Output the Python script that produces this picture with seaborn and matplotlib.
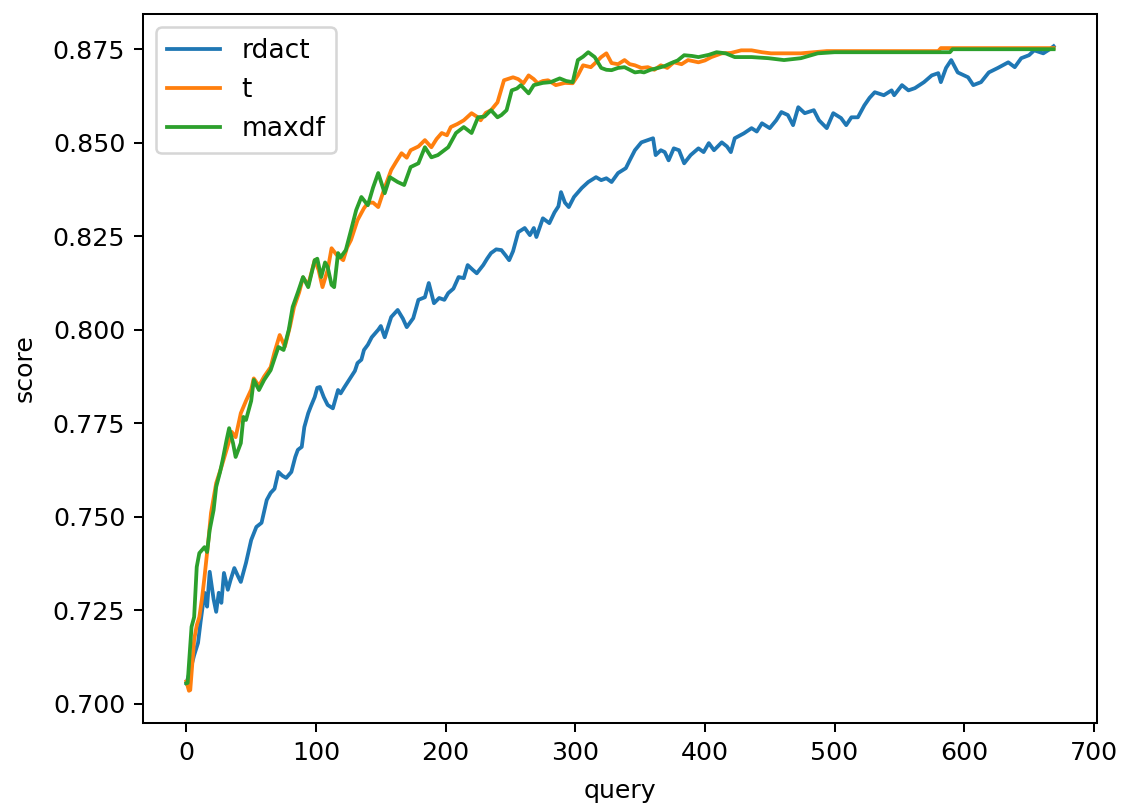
import matplotlib
matplotlib.use("Agg")
import matplotlib.pyplot as plt
import seaborn as sns
import pandas as pd

# ---- data ----
rdact_query = [0, 3, 6, 9, 11, 14, 16, 18, 21, 23, 25, 27, 29, 32, 34, 37, 40, 42, 46, 50,
               54, 58, 62, 65, 68, 71, 74, 77, 81, 84, 86, 89, 91, 94, 96, 99, 101, 103, 106, 109,
               113, 117, 119, 122, 127, 130, 132, 135, 137, 140, 143, 148, 150, 153, 158, 163, 167, 170, 175, 179,
               184, 187, 191, 195, 199, 202, 206, 210, 214, 217, 221, 224, 229, 232, 235, 239, 243, 246, 249, 252,
               256, 261, 265, 268, 270, 275, 280, 284, 287, 289, 292, 295, 299, 305, 310, 316, 320, 324, 328, 333,
               339, 342, 346, 351, 356, 360, 362, 366, 369, 372, 376, 380, 384, 389, 395, 399, 403, 407, 413, 417,
               420, 423, 430, 436, 440, 444, 450, 455, 459, 464, 468, 472, 477, 484, 488, 494, 499, 505, 509, 513,
               518, 523, 527, 531, 538, 544, 546, 552, 557, 562, 569, 575, 580, 582, 586, 590, 595, 603, 607, 613,
               619, 626, 634, 639, 644, 650, 654, 661, 666, 669]
rdact_score = [0.7055, 0.7090, 0.7130, 0.7163, 0.7220, 0.7297, 0.7260, 0.7353, 0.7280, 0.7246, 0.7297, 0.7270, 0.7350, 0.7305, 0.7330, 0.7363, 0.7340, 0.7326, 0.7377, 0.7438,
               0.7473, 0.7484, 0.7545, 0.7564, 0.7575, 0.7620, 0.7610, 0.7604, 0.7620, 0.7660, 0.7679, 0.7687, 0.7740, 0.7777, 0.7795, 0.7820, 0.7845, 0.7847, 0.7820, 0.7799,
               0.7790, 0.7839, 0.7830, 0.7847, 0.7874, 0.7890, 0.7911, 0.7920, 0.7946, 0.7960, 0.7980, 0.8000, 0.8010, 0.7980, 0.8034, 0.8053, 0.8030, 0.8007, 0.8031, 0.8080,
               0.8087, 0.8125, 0.8071, 0.8085, 0.8080, 0.8098, 0.8110, 0.8141, 0.8138, 0.8173, 0.8160, 0.8151, 0.8173, 0.8190, 0.8205, 0.8215, 0.8213, 0.8200, 0.8186, 0.8210,
               0.8261, 0.8272, 0.8253, 0.8272, 0.8248, 0.8298, 0.8285, 0.8314, 0.8330, 0.8368, 0.8340, 0.8328, 0.8355, 0.8379, 0.8395, 0.8408, 0.8400, 0.8405, 0.8395, 0.8419,
               0.8432, 0.8453, 0.8480, 0.8501, 0.8507, 0.8512, 0.8467, 0.8480, 0.8475, 0.8453, 0.8485, 0.8480, 0.8445, 0.8467, 0.8485, 0.8475, 0.8499, 0.8480, 0.8501, 0.8490,
               0.8475, 0.8512, 0.8525, 0.8539, 0.8530, 0.8552, 0.8539, 0.8560, 0.8582, 0.8574, 0.8547, 0.8595, 0.8579, 0.8587, 0.8560, 0.8539, 0.8579, 0.8566, 0.8547, 0.8568,
               0.8568, 0.8600, 0.8620, 0.8635, 0.8627, 0.8640, 0.8627, 0.8654, 0.8640, 0.8646, 0.8662, 0.8680, 0.8686, 0.8662, 0.8700, 0.8721, 0.8688, 0.8675, 0.8654, 0.8662,
               0.8688, 0.8700, 0.8715, 0.8702, 0.8726, 0.8734, 0.8747, 0.8739, 0.8750, 0.8758]

t_query = [0, 2, 3, 6, 8, 10, 12, 14, 17, 19, 21, 23, 27, 31, 35, 38, 42, 46, 50, 52,
           56, 60, 65, 68, 72, 76, 80, 83, 87, 90, 94, 99, 102, 105, 109, 112, 116, 121, 124, 127,
           132, 137, 140, 144, 148, 153, 158, 162, 166, 170, 173, 179, 184, 189, 193, 197, 201, 204, 209, 214,
           220, 224, 227, 231, 235, 240, 245, 252, 256, 260, 264, 268, 271, 275, 279, 285, 292, 298, 302, 306,
           312, 316, 320, 324, 328, 333, 338, 342, 346, 351, 356, 361, 366, 371, 376, 382, 387, 395, 400, 405,
           413, 420, 428, 436, 444, 451, 461, 474, 494, 580, 582, 669]
t_score = [0.7060, 0.7035, 0.7037, 0.7171, 0.7210, 0.7232, 0.7280, 0.7339, 0.7438, 0.7510, 0.7550, 0.7590, 0.7633, 0.7679, 0.7727, 0.7713, 0.7777, 0.7810, 0.7840, 0.7870,
           0.7850, 0.7875, 0.7900, 0.7940, 0.7986, 0.7955, 0.8010, 0.8060, 0.8100, 0.8140, 0.8120, 0.8186, 0.8160, 0.8114, 0.8160, 0.8218, 0.8200, 0.8186, 0.8220, 0.8240,
           0.8293, 0.8325, 0.8339, 0.8340, 0.8328, 0.8380, 0.8427, 0.8450, 0.8472, 0.8460, 0.8480, 0.8490, 0.8507, 0.8488, 0.8510, 0.8526, 0.8520, 0.8542, 0.8550, 0.8560,
           0.8579, 0.8570, 0.8560, 0.8580, 0.8587, 0.8608, 0.8667, 0.8675, 0.8670, 0.8659, 0.8680, 0.8670, 0.8659, 0.8665, 0.8667, 0.8654, 0.8660, 0.8659, 0.8680, 0.8707,
           0.8702, 0.8715, 0.8729, 0.8739, 0.8713, 0.8710, 0.8721, 0.8710, 0.8707, 0.8700, 0.8702, 0.8695, 0.8707, 0.8700, 0.8715, 0.8710, 0.8721, 0.8715, 0.8720, 0.8729,
           0.8739, 0.8740, 0.8747, 0.8747, 0.8742, 0.8739, 0.8739, 0.8739, 0.8745, 0.8745, 0.8753, 0.8753]

maxdf_query = [0, 1, 4, 6, 8, 10, 14, 16, 18, 21, 23, 26, 28, 31, 33, 36, 38, 42, 44, 46,
               50, 52, 56, 60, 65, 71, 75, 79, 82, 86, 90, 94, 99, 101, 104, 107, 109, 112, 114, 117,
               119, 123, 127, 131, 135, 140, 144, 148, 153, 157, 163, 168, 173, 179, 184, 189, 194, 202, 208, 214,
               220, 225, 230, 235, 240, 243, 247, 251, 255, 258, 264, 268, 275, 281, 288, 293, 298, 302, 306, 310,
               315, 320, 324, 328, 333, 338, 342, 346, 350, 353, 358, 364, 369, 374, 379, 384, 390, 395, 403, 409,
               416, 423, 436, 449, 461, 474, 487, 500, 589, 591, 669]
maxdf_score = [0.7055, 0.7056, 0.7206, 0.7232, 0.7366, 0.7403, 0.7419, 0.7406, 0.7465, 0.7518, 0.7580, 0.7620, 0.7652, 0.7705, 0.7737, 0.7697, 0.7660, 0.7697, 0.7767, 0.7759,
               0.7810, 0.7866, 0.7839, 0.7866, 0.7892, 0.7954, 0.7946, 0.8000, 0.8061, 0.8100, 0.8141, 0.8114, 0.8186, 0.8190, 0.8141, 0.8180, 0.8168, 0.8120, 0.8114, 0.8205,
               0.8194, 0.8213, 0.8266, 0.8320, 0.8355, 0.8333, 0.8380, 0.8419, 0.8365, 0.8408, 0.8395, 0.8387, 0.8435, 0.8445, 0.8488, 0.8461, 0.8467, 0.8488, 0.8526, 0.8542,
               0.8526, 0.8568, 0.8570, 0.8587, 0.8568, 0.8574, 0.8587, 0.8640, 0.8645, 0.8654, 0.8632, 0.8654, 0.8660, 0.8662, 0.8672, 0.8665, 0.8662, 0.8721, 0.8730, 0.8742,
               0.8729, 0.8700, 0.8695, 0.8694, 0.8700, 0.8702, 0.8695, 0.8688, 0.8690, 0.8688, 0.8695, 0.8700, 0.8705, 0.8713, 0.8720, 0.8734, 0.8732, 0.8729, 0.8735, 0.8742,
               0.8739, 0.8729, 0.8729, 0.8726, 0.8721, 0.8726, 0.8739, 0.8742, 0.8742, 0.8750, 0.8750]

series_names = ["rdact", "t", "maxdf"]

W, H, DPI = 1127, 807, 182
fig = plt.figure(figsize=(W / DPI, H / DPI), dpi=DPI)
ax = fig.add_axes([143 / W, 1 - 723 / H, (1097 - 143) / W, (723 - 14) / H])

for name, xs, ys in zip(series_names,
                        [rdact_query, t_query, maxdf_query],
                        [rdact_score, t_score, maxdf_score]):
    df = pd.DataFrame({"query": xs, "score": ys})
    sns.lineplot(data=df, x="query", y="score", ax=ax, label=name,
                 estimator=None, linewidth=1.5)

ax.set_xticks([0, 100, 200, 300, 400, 500, 600, 700])
ax.set_yticks([0.700, 0.725, 0.750, 0.775, 0.800, 0.825, 0.850, 0.875])
ax.set_xlabel("query", labelpad=5.5)
ax.set_ylabel("score", labelpad=6.5)
ax.legend(loc="upper left", fontsize=10.5)

fig.savefig("out.png", dpi=DPI)
